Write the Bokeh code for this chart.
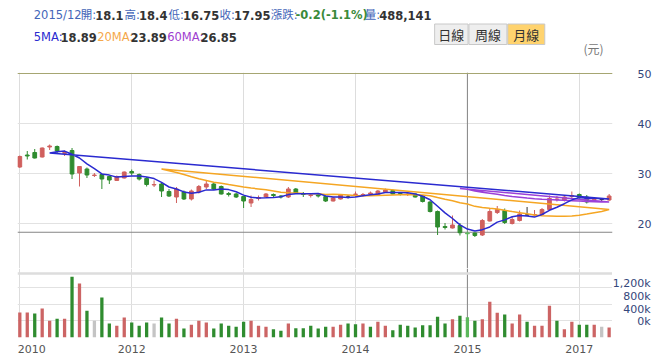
import pandas as pd
from bokeh.plotting import figure
from bokeh.layouts import column, row
from bokeh.models import Range1d, FixedTicker, Span, Grid, ColumnDataSource
from bokeh.core.properties import value
from bokeh.embed import file_html
from bokeh.resources import INLINE

# ---------------- data (monthly K-line) ----------------
start_month = "2010-12"
months = [p.strftime("%Y/%m") for p in pd.period_range(start_month, periods=80, freq="M")]

open_ = [31.3, 33.7, 34.2, 33.3, 35.3, 35.4, 34.0, 34.6, 30.1, 30.9,
         29.6, 29.8, 29.4, 28.6, 29.1, 30.4, 29.8, 29.0, 27.7, 27.9,
         26.4, 25.3, 26.3, 24.9, 26.3, 27.3, 27.9, 27.4, 26.0, 25.9,
         25.4, 24.1, 25.0, 25.3, 25.8, 25.5, 25.3, 26.9, 26.0, 25.6,
         25.7, 25.4, 24.5, 24.9, 25.3, 25.8, 25.7, 25.9, 25.7, 26.3,
         26.6, 26.0, 25.8, 25.9, 25.5, 24.3, 22.4, 19.4, 19.1, 19.6,
         18.1, 18.1, 17.7, 20.5, 22.2, 22.6, 20.0, 20.6, 21.7, 21.7,
         21.8, 22.8, 24.8, 24.6, 25.4, 25.8, 25.3, 24.7, 24.8, 24.7]
high = [33.6, 34.5, 34.9, 35.2, 35.8, 35.6, 34.6, 35.1, 31.5, 31.2,
        30.1, 30.0, 29.6, 29.6, 30.4, 30.8, 30.0, 29.3, 28.6, 28.1,
        26.9, 27.3, 26.6, 26.8, 27.7, 28.5, 28.2, 27.6, 26.3, 26.1,
        25.5, 25.6, 25.6, 26.1, 26.0, 25.7, 27.3, 27.1, 26.3, 26.0,
        25.9, 25.6, 25.3, 25.9, 25.7, 26.4, 26.1, 26.4, 26.7, 27.0,
        26.8, 26.2, 26.1, 26.0, 25.6, 24.5, 22.6, 20.1, 21.6, 20.1,
        18.4, 18.2, 20.9, 23.1, 23.5, 23.0, 21.3, 22.6, 23.3, 22.7,
        23.1, 25.6, 25.5, 25.5, 26.4, 26.0, 25.7, 25.1, 25.0, 25.9]
low = [31.1, 32.8, 33.0, 33.2, 34.7, 33.9, 33.5, 28.9, 27.4, 29.1,
       29.3, 26.9, 27.9, 28.5, 29.0, 29.6, 28.6, 27.4, 27.3, 25.3,
       25.3, 24.1, 24.7, 24.6, 26.0, 26.9, 26.7, 25.8, 25.4, 25.1,
       23.1, 23.3, 24.6, 25.1, 25.2, 25.0, 25.1, 25.9, 25.3, 25.2,
       25.2, 24.3, 24.4, 24.8, 25.0, 25.3, 25.4, 25.6, 25.5, 26.1,
       25.8, 25.6, 25.5, 25.2, 24.2, 22.2, 17.7, 18.8, 19.0, 17.6,
       16.75, 17.3, 17.5, 20.4, 21.9, 19.9, 19.8, 20.4, 21.6, 21.4,
       21.6, 22.5, 24.4, 24.4, 25.0, 25.0, 24.0, 24.3, 24.4, 24.5]
close = [33.4, 33.5, 33.1, 35.1, 35.5, 34.5, 34.2, 29.9, 31.4, 29.7,
         29.7, 28.9, 28.7, 29.4, 30.3, 30.1, 28.9, 27.8, 27.8, 26.5,
         25.5, 26.9, 24.9, 26.5, 27.4, 27.9, 26.9, 25.9, 25.8, 25.3,
         24.5, 24.8, 25.2, 25.9, 25.6, 25.3, 26.9, 26.1, 25.8, 25.7,
         25.5, 24.5, 25.1, 25.7, 25.3, 25.9, 25.8, 26.1, 26.5, 26.7,
         25.9, 25.8, 25.9, 25.3, 24.4, 22.4, 19.3, 19.2, 19.7, 18.15,
         17.95, 17.6, 20.6, 22.4, 22.8, 20.2, 20.8, 21.9, 21.7, 21.8,
         22.8, 25.0, 24.9, 25.3, 25.6, 25.2, 24.3, 24.8, 24.8, 25.5]
# volume in thousands of shares
volume_k = [606, 606, 582, 703, 404, 453, 453, 1471, 1309, 646,
            404, 970, 339, 283, 485, 364, 283, 364, 339, 485,
            339, 453, 218, 307, 404, 364, 218, 339, 283, 259,
            380, 404, 283, 259, 202, 162, 339, 226, 226, 283,
            218, 259, 259, 307, 339, 323, 339, 259, 380, 283,
            178, 307, 283, 242, 299, 299, 501, 339, 444, 525,
            488.141, 404, 444, 865, 598, 558, 339, 558, 380, 283,
            283, 768, 404, 202, 380, 307, 307, 307, 259, 242]
# volume bar direction vs previous month: 1 up, -1 down, 0 flat
vol_dir = [1, 1, -1, 1, 1, -1, 1, -1, 1, -1,
           0, -1, -1, 1, 1, -1, -1, -1, 0, -1,
           -1, 1, -1, 1, 1, 1, -1, -1, -1, -1,
           -1, 1, 1, 1, -1, -1, 1, -1, -1, -1,
           -1, -1, 1, 1, -1, -1, 1, -1, 1, 1,
           -1, -1, -1, -1, -1, -1, -1, -1, 1, -1,
           -1, -1, 1, 1, 1, -1, 1, 1, -1, 1,
           1, 1, -1, 1, 1, -1, -1, 1, 0, 1]

ma5_start = 4
ma5 = [34.12, 34.34, 34.48, 33.84, 33.10, 31.94, 30.98, 29.92, 29.68, 29.28,
       29.40, 29.48, 29.48, 29.30, 28.98, 28.22, 27.30, 26.90, 26.32, 26.06,
       26.24, 26.72, 26.72, 26.92, 26.78, 26.36, 25.68, 25.26, 25.12, 25.14,
       25.20, 25.36, 25.78, 25.96, 25.94, 25.96, 26.00, 25.52, 25.32, 25.30,
       25.22, 25.30, 25.56, 25.76, 25.92, 26.20, 26.20, 26.20, 26.16, 25.92,
       25.46, 24.76, 23.46, 22.12, 21.00, 19.72, 18.89, 18.49, 18.77, 19.31,
       20.27, 20.72, 21.36, 21.62, 21.48, 21.28, 21.80, 22.64, 23.24, 23.96,
       24.72, 25.20, 25.06, 25.04, 24.94, 24.92]
ma20_start = 19
ma20 = [30.92, 30.53, 30.20, 29.79, 29.36, 28.95, 28.62, 28.26, 28.06, 27.78,
        27.56, 27.30, 27.09, 26.92, 26.74, 26.51, 26.27, 26.17, 26.08, 25.98,
        25.94, 25.94, 25.82, 25.83, 25.79, 25.69, 25.59, 25.53, 25.54, 25.58,
        25.65, 25.72, 25.77, 25.80, 25.77, 25.71, 25.57, 25.19, 24.84, 24.54,
        24.15, 23.89, 23.43, 23.20, 23.04, 22.91, 22.63, 22.38, 22.17, 21.93,
        21.68, 21.53, 21.49, 21.44, 21.44, 21.50, 21.64, 21.89, 22.17, 22.42,
        22.80]
ma60_start = 59
ma60 = [27.00, 26.85, 26.48, 26.27, 26.06, 25.85, 25.61, 25.39, 25.25, 25.09,
        24.96, 24.85, 24.78, 24.72, 24.65, 24.57, 24.49, 24.41, 24.36, 24.31,
        24.30]

hover = 60                 # month under the crosshair
cross_price = 18.25        # horizontal crosshair level
grid_bars = [0, 15, 30, 45, 60, 75]
price_ticks = [20, 30, 40, 50]
vol_ticks = [0, 400, 800, 1200]
vol_tick_labels = ["0k", "400k", "800k", "1,200k"]
vol_border = 1551
buttons = ["日線", "周線", "月線"]
active_button = "月線"

# ---------------- styles ----------------
RED, GREEN, FLAT = "#d0605e", "#2f8c2f", "#333333"
HOVER_GREEN = "#5cb85c"
VRED, VGREEN, VGRAY = "#cc6464", "#2f8c2f", "#c4c4c4"
C5, C20, C60 = "#2a2ad0", "#f5a623", "#9b40d8"
LBL_BLUE = "#4466b8"
AXIS_BLUE = "#34467a"
FONT = "DejaVu Sans, Noto Sans CJK TC"
HFS = 11.5  # header font size (px)
W = 659

n = len(close)
idx = list(range(n))

def ccol(i):
    if close[i] > open_[i]:
        return RED
    if close[i] < open_[i]:
        return HOVER_GREEN if i == hover else GREEN
    return FLAT

cand = ColumnDataSource(dict(
    x=idx, high=high, low=low,
    top=[max(o, c) for o, c in zip(open_, close)],
    bottom=[min(o, c) for o, c in zip(open_, close)],
    color=[ccol(i) for i in idx]))

vcol = []
for i, d in enumerate(vol_dir):
    if i == hover:
        vcol.append(HOVER_GREEN if d < 0 else VRED)
    else:
        vcol.append(VRED if d > 0 else (VGREEN if d < 0 else VGRAY))
vsrc = ColumnDataSource(dict(x=idx, top=volume_k, color=vcol))

# ---------------- header ----------------
hdr = figure(width=W, height=60, x_range=Range1d(0, W), y_range=Range1d(60, 0),
             toolbar_location=None, output_backend="svg", min_border=0,
             x_axis_location=None, y_axis_location=None)
hdr.outline_line_color = None
hdr.grid.visible = False

def fmt(v):
    return f"{v:g}"

# approximate advance widths (em) for flowing header segments
_norm = {"/": 0.337, ":": 0.337, ".": 0.318, ",": 0.318, "(": 0.390, ")": 0.390,
         "-": 0.361, "%": 0.950, "M": 0.863, "A": 0.684, " ": 0.318}
_bold = {".": 0.380, ",": 0.380, "(": 0.457, ")": 0.457, "-": 0.415, "%": 1.002}

def text_w(s, bold):
    w = 0.0
    for ch in s:
        if ch.isdigit():
            w += 0.696 if bold else 0.636
        elif ord(ch) > 0x2E80:
            w += 1.0
        else:
            w += (_bold.get(ch) if bold and ch in _bold else _norm.get(ch, 0.6))
    return w * HFS

chg = close[hover] - close[hover - 1]
pct = chg / close[hover - 1] * 100
vol_txt = f"{round(volume_k[hover] * 1000):,}"

# (text, color, bold, space_after)
line1 = [(months[hover], LBL_BLUE, 0, 1), ("開:", LBL_BLUE, 0, 0), (fmt(open_[hover]), "#333333", 1, 1),
         ("高:", LBL_BLUE, 0, 0), (fmt(high[hover]), "#333333", 1, 1),
         ("低:", LBL_BLUE, 0, 0), (fmt(low[hover]), "#333333", 1, 1),
         ("收:", LBL_BLUE, 0, 0), (fmt(close[hover]), "#333333", 1, 1),
         ("漲跌:", LBL_BLUE, 0, 0), (f"{chg:.1f}({pct:.1f}%)", "#3a8a3a", 1, 1),
         ("量:", LBL_BLUE, 0, 0), (vol_txt, "#333333", 1, 0)]
line2 = [("5MA:", C5, 0, 0), (f"{ma5[hover - ma5_start]:.2f}", "#333333", 1, 1),
         ("20MA:", "#f5a84a", 0, 0), (f"{ma20[hover - ma20_start]:.2f}", "#333333", 1, 1),
         ("60MA:", "#a040d0", 0, 0), (f"{ma60[hover - ma60_start]:.2f}", "#333333", 1, 0)]

segs = {0: dict(x=[], y=[], t=[], c=[]), 1: dict(x=[], y=[], t=[], c=[])}
for line, ybase in ((line1, 14.5), (line2, 36.5)):
    x = 18.0
    for t, c, b, sp in line:
        d = segs[b]
        d["x"].append(x); d["y"].append(ybase); d["t"].append(t); d["c"].append(c)
        x += text_w(t, b) + 0.6 + (0.318 * HFS if sp else 0)

for b in (0, 1):
    d = segs[b]
    hdr.text(x=d["x"], y=d["y"], text=d["t"], text_color=d["c"], text_font=value(FONT),
             text_font_size=f"{HFS}px", text_font_style="bold" if b else "normal",
             text_baseline="alphabetic", text_align="left")

btn_left = [462, 500, 543]
btn_right = [499, 542, 584]
hdr.quad(left=btn_left, right=btn_right, top=[23.5] * 3, bottom=[44] * 3,
         fill_color=["#ffd36e" if b == active_button else "#eeeeee" for b in buttons],
         line_color="#c8c8c8", line_width=1)
hdr.text(x=[(a + b) / 2 for a, b in zip(btn_left, btn_right)], y=[34] * 3, text=buttons,
         text_font=value("Noto Sans CJK TC"), text_font_size="13px", text_color="#333333",
         text_align="center", text_baseline="middle")
hdr.text(x=[638], y=[48], text=["(元)"], text_font=value("Noto Sans CJK TC"),
         text_font_size="12px", text_color="#777777", text_align="center", text_baseline="middle")

# ---------------- price panel ----------------
p = figure(width=W, height=208, x_range=Range1d(-0.31, 79.45), y_range=Range1d(11.0, 50.2),
           toolbar_location=None, output_backend="svg",
           min_border_left=17, min_border_right=47, min_border_top=12, min_border_bottom=0,
           x_axis_location=None, y_axis_location="right")
p.outline_line_color = None
p.yaxis.ticker = FixedTicker(ticks=price_ticks)
p.yaxis.axis_line_color = None
p.yaxis.major_tick_line_color = None
p.yaxis.minor_tick_line_color = None
p.yaxis.major_label_standoff = 19
p.yaxis.major_label_text_font = "DejaVu Sans"
p.yaxis.major_label_text_font_size = "11px"
p.yaxis.major_label_text_color = AXIS_BLUE
p.ygrid.ticker = FixedTicker(ticks=price_ticks)
p.ygrid.grid_line_color = "#e2e2e2"
if len(p.xgrid) == 0:
    p.add_layout(Grid(dimension=0, ticker=FixedTicker(ticks=grid_bars), grid_line_color="#dddddd"))
else:
    p.xgrid.ticker = FixedTicker(ticks=grid_bars)
    p.xgrid.grid_line_color = "#dddddd"

p.add_layout(Span(location=price_ticks[-1], dimension="width", line_color="#a6a672", line_width=1))
p.add_layout(Span(location=hover, dimension="height", line_color="#858585", line_width=1, level="underlay"))
p.add_layout(Span(location=cross_price, dimension="width", line_color="#858585", line_width=1, level="underlay"))

p.segment(x0="x", y0="high", x1="x", y1="low", line_color="color", line_width=1, source=cand)
p.vbar(x="x", width=0.5, top="top", bottom="bottom", fill_color="color", line_color="color",
       line_width=1, source=cand)

for start, ma, col in ((ma60_start, ma60, C60), (ma20_start, ma20, C20), (ma5_start, ma5, C5)):
    mx = list(range(start, start + len(ma)))
    p.patch(x=mx, y=ma, fill_color=None, line_color=col, line_width=1.5)

# ---------------- volume panel ----------------
frame_h = 69
vol_top = 1672.7
v = figure(width=612, height=89, x_range=p.x_range, y_range=Range1d(0, vol_top),
           toolbar_location=None, output_backend="svg",
           min_border_left=17, min_border_right=0, min_border_top=0, min_border_bottom=20,
           y_axis_location=None)
v.outline_line_color = None
label_pos = [b if b > 0 else 1.6 for b in grid_bars]
year_labels = [months[b][:4] for b in grid_bars]
v.xaxis.ticker = FixedTicker(ticks=label_pos)
ov = {}
for pos, lab in zip(label_pos, year_labels):
    ov[pos] = lab
    ov[str(pos)] = lab
v.xaxis.major_label_overrides = ov
v.xaxis.axis_line_color = None
v.xaxis.major_tick_line_color = None
v.xaxis.minor_tick_line_color = None
v.xaxis.major_label_standoff = 1
v.xaxis.major_label_text_font = "DejaVu Sans"
v.xaxis.major_label_text_font_size = "11px"
v.xaxis.major_label_text_color = "#555555"
v.xgrid.ticker = FixedTicker(ticks=grid_bars)
v.xgrid.grid_line_color = "#dddddd"
if len(v.ygrid) == 0:
    v.add_layout(Grid(dimension=1, ticker=FixedTicker(ticks=vol_ticks), grid_line_color="#e2e2e2"))
else:
    v.ygrid.ticker = FixedTicker(ticks=vol_ticks)
    v.ygrid.grid_line_color = "#e2e2e2"
v.add_layout(Span(location=vol_border, dimension="width", line_color="#dddddd", line_width=2.5))
v.add_layout(Span(location=hover, dimension="height", line_color="#858585", line_width=1, level="underlay"))
v.vbar(x="x", width=0.44, top="top", bottom=0, fill_color="color", line_color=None, source=vsrc)

kpp = vol_top / frame_h
vl = figure(width=W - 612, height=89, x_range=Range1d(0, W - 612),
            y_range=Range1d(-20 * kpp, vol_top), toolbar_location=None, output_backend="svg",
            min_border=0, x_axis_location=None, y_axis_location=None)
vl.outline_line_color = None
vl.grid.visible = False
vl.text(x=[38] * len(vol_ticks), y=vol_ticks, text=vol_tick_labels, text_font=value("DejaVu Sans"),
        text_font_size="11px", text_color=AXIS_BLUE, text_align="right", text_baseline="middle")

layout = column(hdr, p, row(v, vl))
open("out.html", "w").write(file_html(layout, INLINE))
